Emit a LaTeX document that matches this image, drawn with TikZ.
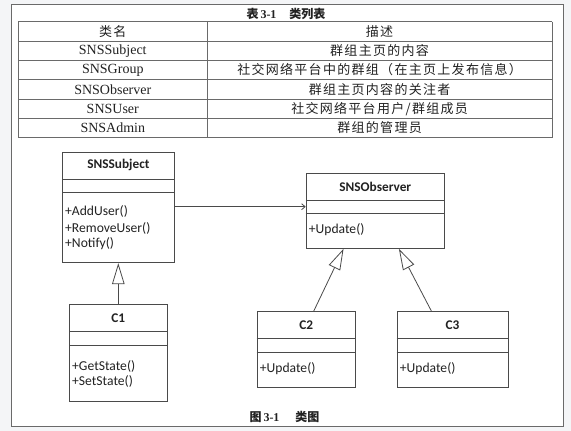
\documentclass[tikz,border=0pt]{standalone}
\usepackage{fontspec}
\setmainfont{Liberation Serif}
\newfontfamily\cjk[LetterSpace=10]{Noto Sans CJK SC}
\newfontfamily\cjkt{Noto Sans CJK SC}
\newfontfamily\calib{Carlito}
\usetikzlibrary{arrows.meta,calc}
\definecolor{ln}{HTML}{4A4A4A}
\definecolor{tl}{HTML}{6A6A6A}
\definecolor{tx}{HTML}{222222}
\definecolor{bgout}{HTML}{F4F5F7}
\tikzset{
  cls/.style={draw=ln, line width=0.8pt, rectangle, inner sep=0pt, anchor=north west},
  hdr/.style={font=\calib\bfseries\fontsize{13.3}{15}\selectfont, text=tx, inner sep=0pt},
  meth/.style={font=\calib\fontsize{13.6}{15}\selectfont, text=tx, inner sep=2pt, anchor=west},
  cell/.style={font=\fontsize{14}{16}\selectfont, text=tx, inner sep=0pt},
  ccell/.style={font=\cjk\fontsize{13}{15}\selectfont, text=tx, inner sep=0pt},
  tline/.style={draw=tl, line width=0.8pt},
  gen/.style={draw=ln, line width=0.8pt, -{Triangle[open, length=21pt, width=12.5pt, line width=0.8pt]}},
  assoc/.style={draw=ln, line width=0.8pt, -{Straight Barb[length=3.5pt, width=6pt, line width=0.8pt]}},
}
\begin{document}
\begin{tikzpicture}[x=1pt,y=-1pt]
\useasboundingbox (0,0) rectangle (571,431);
\fill[bgout] (0,0) rectangle (571,431);
\draw[draw=tl, line width=0.8pt, fill=white] (11.7,4.7) rectangle (563.3,426);

% table title
\node[font=\fontsize{12}{14}\selectfont, text=tx, inner sep=0pt] (ttitle) at (286,13.6)
  {{\cjkt\bfseries 表}\,{\bfseries 3-1}\hspace{13pt}{\cjkt\bfseries 类列表}};

% table lines
\foreach \yy in {21.7,41.0,60.4,79.7,99.0,118.4,137.7}
  \draw[tline] (18.3,\yy) -- (552,\yy);
\draw[tline] (18.3,21.7) -- (18.3,137.7);
\draw[tline] (207.3,21.7) -- (207.3,137.7);
\draw[tline] (552,21.7) -- (552,137.7);

% table text
\node[ccell] (h1) at (112.8,31.35) {类名};
\node[ccell] (h2) at (379.6,31.35) {描述};
\node[cell] (r1a) at (112.8,50.7) {SNSSubject};
\node[ccell] (r1b) at (379.6,50.7) {群组主页的内容};
\node[cell] (r2a) at (112.8,70.05) {SNSGroup};
\node[ccell] (r2b) at (379.6,70.05) {社交网络平台中的群组（在主页上发布信息）};
\node[cell] (r3a) at (112.8,89.35) {SNSObserver};
\node[ccell] (r3b) at (379.6,89.35) {群组主页内容的关注者};
\node[cell] (r4a) at (112.8,108.7) {SNSUser};
\node[ccell] (r4b) at (379.6,108.7) {社交网络平台用户/群组成员};
\node[cell] (r5a) at (112.8,128.05) {SNSAdmin};
\node[ccell] (r5b) at (379.6,128.05) {群组的管理员};

% ---------- class boxes ----------
% SNSSubject
\node[cls, minimum width=112pt, minimum height=110.6pt] (subj) at (62,151.7) {};
\draw[ln, line width=0.8pt] (subj.west |- 0,179) -- (subj.east |- 0,179);
\draw[ln, line width=0.8pt] (subj.west |- 0,192.7) -- (subj.east |- 0,192.7);
\node[hdr] (subjn) at (subj.north |- 0,165.3) {SNSSubject};
\node[meth] (subjm1) at ([xshift=1pt]subj.west |- 0,211.7) {+AddUser()};
\node[meth] (subjm2) at ([xshift=1pt]subj.west |- 0,228) {+RemoveUser()};
\node[meth] (subjm3) at ([xshift=1pt]subj.west |- 0,244) {+Notify()};

% SNSObserver
\node[cls, minimum width=138.3pt, minimum height=75.3pt] (obs) at (305.7,172.7) {};
\draw[ln, line width=0.8pt] (obs.west |- 0,200) -- (obs.east |- 0,200);
\draw[ln, line width=0.8pt] (obs.west |- 0,213.3) -- (obs.east |- 0,213.3);
\node[hdr] (obsn) at (obs.north |- 0,186.4) {SNSObserver};
\node[meth] (obsm1) at ([xshift=1pt]obs.west |- 0,230) {+Update()};

% C1
\node[cls, minimum width=97.7pt, minimum height=96.7pt] (c1) at (69,304) {};
\draw[ln, line width=0.8pt] (c1.west |- 0,331.7) -- (c1.east |- 0,331.7);
\draw[ln, line width=0.8pt] (c1.west |- 0,345) -- (c1.east |- 0,345);
\node[hdr] (c1n) at (c1.north |- 0,317.9) {C1};
\node[meth] (c1m1) at ([xshift=1pt]c1.west |- 0,366) {+GetState()};
\node[meth] (c1m2) at ([xshift=1pt]c1.west |- 0,381.7) {+SetState()};

% C2
\node[cls, minimum width=98.3pt, minimum height=76.3pt] (c2) at (256.7,311) {};
\draw[ln, line width=0.8pt] (c2.west |- 0,338.3) -- (c2.east |- 0,338.3);
\draw[ln, line width=0.8pt] (c2.west |- 0,352.3) -- (c2.east |- 0,352.3);
\node[hdr] (c2n) at (c2.north |- 0,324.7) {C2};
\node[meth] (c2m1) at ([xshift=1pt]c2.west |- 0,368.3) {+Update()};

% C3
\node[cls, minimum width=111pt, minimum height=76.3pt] (c3) at (396.7,311) {};
\draw[ln, line width=0.8pt] (c3.west |- 0,338.3) -- (c3.east |- 0,338.3);
\draw[ln, line width=0.8pt] (c3.west |- 0,352.3) -- (c3.east |- 0,352.3);
\node[hdr] (c3n) at (c3.north |- 0,324.7) {C3};
\node[meth] (c3m1) at ([xshift=1pt]c3.west |- 0,368.3) {+Update()};

% ---------- connectors ----------
\coordinate (assocy) at (0,206.7);
\draw[assoc] (subj.east |- assocy) -- (obs.west |- assocy);
\draw[gen] (c1.north -| 118.3,0) -- (subj.south -| 118.3,0);
\draw[gen] ($(c2.north west)!0.576!(c2.north east)$) -- ($(obs.south west)!0.272!(obs.south east)$);
\draw[gen] ($(c3.north west)!0.31!(c3.north east)$) -- ($(obs.south west)!0.67!(obs.south east)$);

% caption
\node[font=\fontsize{12}{14}\selectfont, text=tx, inner sep=0pt] (cap) at (284.5,416.7)
  {{\cjkt\bfseries 图}\,{\bfseries 3-1}\hspace{16pt}{\cjkt\bfseries 类图}};
\end{tikzpicture}
\end{document}
